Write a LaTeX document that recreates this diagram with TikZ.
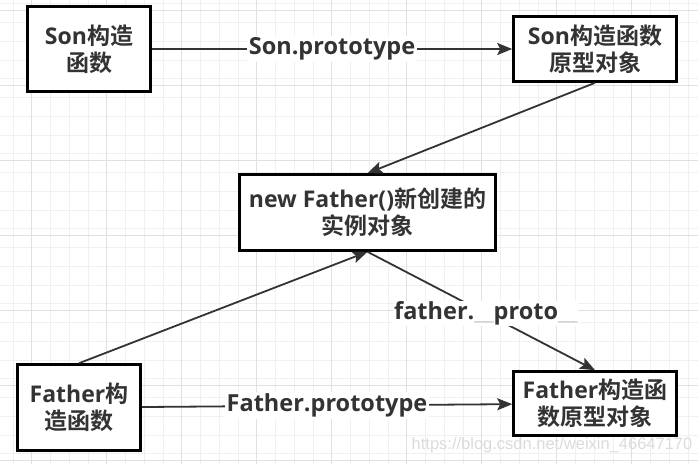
\documentclass[tikz,border=0pt]{standalone}
\usepackage{fontspec}
\setmainfont{Open Sans}
\newfontfamily\cjkf{Noto Sans CJK SC}[BoldFont={Noto Sans CJK SC Bold}]
\newcommand\zh[1]{{\cjkf #1}}
\newfontfamily\wmfont{Liberation Sans}
\usetikzlibrary{arrows.meta}
\definecolor{txt}{HTML}{333333}
\definecolor{ln}{HTML}{333333}
\definecolor{gminor}{HTML}{F0F0F0}
\definecolor{gmajor}{HTML}{E0E0E0}
\definecolor{uscore}{HTML}{D0D0D0}
\tikzset{
  box/.style={draw=black, line width=2.6pt, fill=white, inner sep=0pt, align=center,
    text=txt, font=\bfseries\fontsize{23}{27}\selectfont},
  conn/.style={draw=ln, line width=1.8pt, -{Stealth[length=15pt,width=12pt,inset=3pt]}},
  lbl/.style={fill=white, text=txt, inner sep=2pt, font=\bfseries\fontsize{23.5}{25}\selectfont},
}
\begin{document}
\begin{tikzpicture}[x=1pt,y=-1pt]
\useasboundingbox (0,0) rectangle (698,464);
\fill[white] (0,0) rectangle (698,464);
% grid
\foreach \i in {0,...,37} {
  \draw[gminor, line width=0.9pt] ({12.95+18.75*\i},0) -- ({12.95+18.75*\i},464);
}
\foreach \i in {0,...,24} {
  \draw[gminor, line width=0.9pt] (0,{3.75+18.75*\i}) -- (698,{3.75+18.75*\i});
}
\foreach \i in {0,...,9} {
  \draw[gmajor, line width=0.9pt] ({31.7+75*\i},0) -- ({31.7+75*\i},464);
}
\foreach \i in {0,...,6} {
  \draw[gmajor, line width=0.9pt] (0,{10+75*\i}) -- (698,{10+75*\i});
}
% boxes
\node[box, minimum width=123pt, minimum height=85pt] (son) at (89,49) {Son\zh{构造}\\\zh{函数}};
\node[box, minimum width=163pt, minimum height=65pt] (sonproto) at (595,49) {Son\zh{构造函数}\\\zh{原型对象}};
\node[box, minimum width=256pt, minimum height=76pt] (newf) at (367.5,212.5) {new Father()\zh{新创建的}\\\zh{实例对象}};
\node[box, minimum width=123pt, minimum height=86pt] (father) at (79,407.5) {Father\zh{构}\\\zh{造函数}};
\node[box, minimum width=163pt, minimum height=64pt] (fproto) at (595,403.5) {Father\zh{构造函}\\\zh{数原型对象}};
% connectors
\draw[conn] (son) -- node[lbl] (l1) {Son.prototype} (sonproto);
\draw[conn] (sonproto.south) -- (newf.north);
\draw[conn] (father.north) -- (newf.south);
\draw[conn] (father) -- node[lbl] (l2) {Father.prototype} (fproto);
\draw[conn] (newf.south) -- node[lbl, pos=0.52, inner sep=1pt] (l3) {father.\textcolor{uscore}{\_\_}proto\textcolor{uscore}{\_\_}} (fproto.north);
% watermark
\node[text=black!14, font=\wmfont\fontsize{16.5}{18}\selectfont, inner sep=0pt] (wm) at (552,445) {https://blog.csdn.net/weixin\_46647170};
\end{tikzpicture}
\end{document}
